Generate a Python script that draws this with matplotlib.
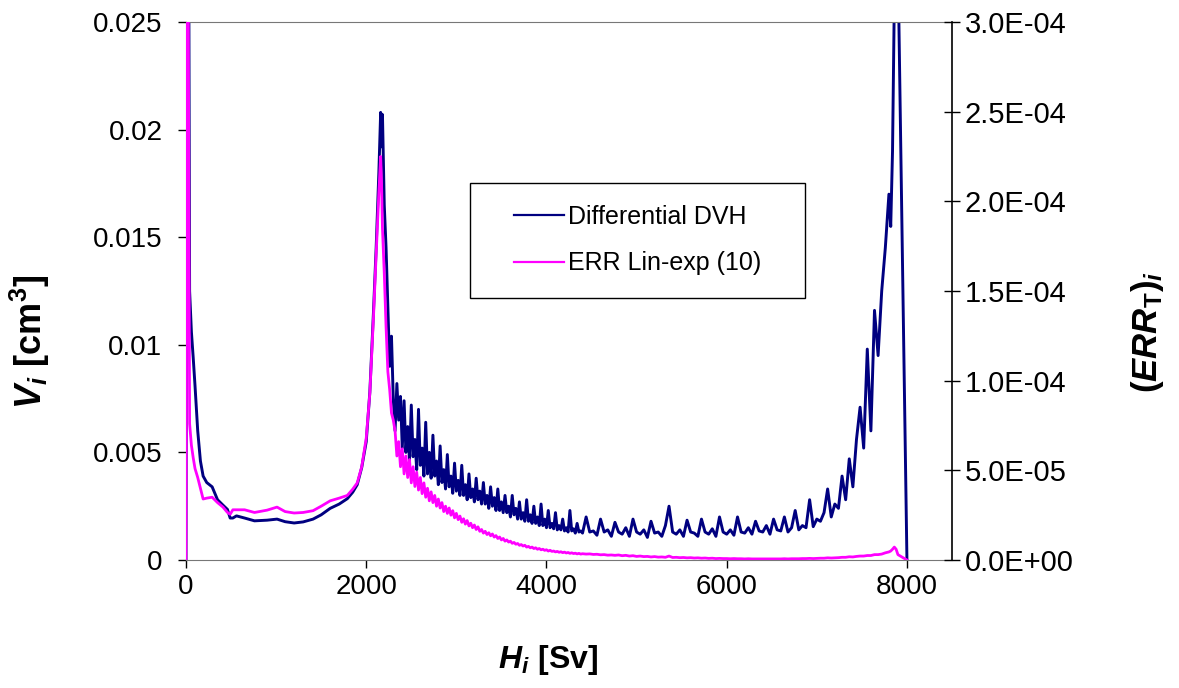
import matplotlib

matplotlib.use("Agg")
import matplotlib.pyplot as plt
import matplotlib.ticker as mticker
import numpy as np
from matplotlib.patches import Rectangle

plt.rcParams["font.family"] = "Liberation Sans"
plt.rcParams["mathtext.fontset"] = "custom"
plt.rcParams["mathtext.rm"] = "Liberation Sans"
plt.rcParams["mathtext.it"] = "Liberation Sans:italic"
plt.rcParams["mathtext.bf"] = "Liberation Sans:bold"
plt.rcParams["mathtext.bfit"] = "Liberation Sans:italic:bold"

NAVY = "#000080"
MAGENTA = "#ff00ff"

# dose bins H_i [Sv]
H = [
    0, 20, 40, 60, 80, 100, 130, 160, 190, 230,
    290, 350, 410, 460, 490, 520, 560, 650, 760, 900,
    1010, 1100, 1200, 1300, 1410, 1500, 1600, 1700, 1790, 1850,
    1900, 1950, 2000, 2040, 2080, 2110, 2140, 2160, 2170, 2180,
    2200, 2220, 2240, 2260, 2280, 2300,
    2320, 2340, 2360, 2380, 2400, 2420, 2440, 2460, 2480, 2500,
    2520, 2540, 2560, 2580, 2600, 2620, 2640, 2660, 2680, 2700,
    2720, 2740, 2760, 2780, 2800, 2820, 2840, 2860, 2880, 2900,
    2920, 2940, 2960, 2980, 3000, 3020, 3040, 3060, 3080, 3100,
    3120, 3140, 3160, 3180, 3200, 3220, 3240, 3260, 3280, 3300,
    3320, 3340, 3360, 3380, 3400, 3420, 3440, 3460, 3480, 3500,
    3520, 3540, 3560, 3580, 3600, 3620, 3640, 3660, 3680, 3700,
    3720, 3740, 3760, 3780, 3800, 3820, 3840, 3860, 3880, 3900,
    3920, 3940, 3960, 3980, 4000, 4020, 4040, 4060, 4080, 4100,
    4120, 4140, 4160, 4180, 4200, 4220, 4240, 4260, 4280, 4300,
    4320, 4340, 4360, 4380, 4400,
    4440, 4480, 4520, 4560, 4600, 4640, 4680,
    4720, 4760, 4800, 4840, 4880, 4920, 4960, 5000, 5040, 5080,
    5120, 5160, 5200, 5240, 5280, 5320, 5360, 5400, 5440, 5480,
    5520, 5560, 5600, 5640, 5680, 5720, 5760, 5800, 5840, 5880,
    5920, 5960, 6000, 6040, 6080, 6120, 6160, 6200, 6240, 6280,
    6320, 6360, 6400, 6440, 6480, 6520, 6560, 6600, 6640, 6680,
    6720, 6760, 6800, 6840, 6880, 6920, 6960, 7000, 7040, 7080,
    7120, 7160, 7200, 7240, 7280, 7320, 7360, 7400, 7440, 7480,
    7520, 7560, 7600, 7640, 7680, 7720, 7760, 7800,
    7820, 7840, 7860, 7880, 7900, 8000,
]

# differential DVH, V_i in mm^3 (1e-3 cm^3)
DVH_MM3 = [
    0, 45, 12.5, 10.6, 9.4, 8.1, 6.0, 4.6, 3.9, 3.6,
    3.4, 2.8, 2.55, 2.35, 1.95, 1.95, 2.05, 1.95, 1.82, 1.85,
    1.9, 1.78, 1.72, 1.77, 1.9, 2.1, 2.4, 2.6, 2.85, 3.15,
    3.5, 4.3, 5.5, 7.8, 11.5, 14.5, 18.0, 20.8, 19.2, 20.7,
    16.5, 14.5, 11.8, 9.0, 10.4, 7.5,
    6.0, 8.2, 6.5, 7.6, 5.2, 7.4, 5.0, 6.2, 4.6, 7.2,
    4.8, 5.6, 4.2, 7.0, 4.4, 5.2, 3.9, 6.4, 4.0, 5.0,
    3.8, 5.8, 3.9, 4.6, 3.5, 5.3, 3.6, 4.2, 3.3, 4.9,
    3.4, 3.9, 3.1, 4.5, 3.2, 3.7, 3.0, 4.4, 3.0, 3.5,
    2.8, 4.0, 2.9, 3.3, 2.7, 3.8, 2.8, 3.2, 2.6, 3.6,
    2.6, 3.0, 2.4, 3.4, 2.5, 2.9, 2.3, 3.3, 2.3, 2.7,
    2.2, 3.0, 2.2, 2.5, 2.0, 3.0, 2.1, 2.4, 1.9, 2.7,
    1.9, 2.2, 1.8, 2.8, 1.8, 2.1, 1.7, 2.5, 1.7, 2.0,
    1.6, 2.6, 1.6, 1.9, 1.5, 2.3, 1.5, 1.7, 1.45, 2.2,
    1.4, 1.6, 1.4, 1.9, 1.35, 1.5, 1.3, 2.3, 1.35, 1.45,
    1.25, 1.7, 1.3, 1.35, 1.25,
    2.0, 1.3, 1.35, 1.15, 1.9, 1.3, 1.4,
    1.1, 1.75, 1.3, 1.2, 1.5, 1.1, 1.9, 1.3, 1.2, 1.4,
    1.05, 1.8, 1.25, 1.3, 1.1, 1.6, 2.5, 1.3, 1.2, 1.4,
    1.1, 1.85, 1.3, 1.25, 1.1, 1.9, 1.3, 1.2, 1.45, 1.1,
    2.0, 1.3, 1.2, 1.4, 1.15, 2.0, 1.3, 1.25, 1.5, 1.2,
    1.8, 1.35, 1.3, 1.6, 1.2, 1.9, 1.4, 1.35, 2.0, 1.3,
    1.5, 2.3, 1.4, 1.6, 1.5, 2.8, 1.55, 1.9, 1.8, 2.2,
    3.3, 2.0, 2.6, 2.4, 3.9, 2.8, 4.7, 3.4, 5.6, 7.1,
    5.2, 9.8, 6.0, 11.6, 9.5, 12.5, 14.5, 17.0,
    15.5, 19.0, 26.0, 32.0, 28.0, 0,
]

# ERR Lin-exp (10), (ERR_T)_i in units of 1e-5
ERR_E5 = [
    0, 40, 7.6, 6.4, 5.7, 5.1, 4.6, 4.0, 3.4, 3.45,
    3.5, 3.2, 2.95, 2.65, 2.55, 2.8, 2.8, 2.8, 2.65, 2.78,
    2.95, 2.7, 2.62, 2.65, 2.75, 3.0, 3.3, 3.45, 3.6, 3.95,
    4.3, 5.2, 6.8, 9.3, 13.5, 17.0, 20.5, 22.5, 21.0, 18.5,
    16.0, 13.0, 10.5, 9.5, 8.2, 7.8,
    7.2, 5.8, 6.6, 5.2, 6.2, 4.8, 5.8, 4.6, 5.6, 4.3,
    5.2, 4.1, 4.9, 3.9, 4.6, 3.7, 4.3, 3.5, 4.0, 3.3,
    3.8, 3.2, 3.6, 3.0, 3.4, 2.9, 3.2, 2.7, 3.0, 2.6,
    2.9, 2.5, 2.75, 2.35, 2.6, 2.25, 2.45, 2.1, 2.3, 2.0,
    2.2, 1.9, 2.05, 1.8, 1.95, 1.7, 1.85, 1.6, 1.7, 1.5,
    1.6, 1.42, 1.52, 1.35, 1.45, 1.28, 1.36, 1.2, 1.28, 1.12,
    1.2, 1.05, 1.12, 1.0, 1.05, 0.93, 0.98, 0.88, 0.92, 0.82,
    0.86, 0.78, 0.82, 0.72, 0.76, 0.68, 0.72, 0.64, 0.68, 0.6,
    0.64, 0.57, 0.6, 0.54, 0.57, 0.5, 0.54, 0.48, 0.5, 0.45,
    0.48, 0.43, 0.46, 0.41, 0.44, 0.39, 0.42, 0.37, 0.4, 0.36,
    0.38, 0.34, 0.37, 0.33, 0.35,
    0.33, 0.34, 0.31, 0.32, 0.29, 0.3, 0.27,
    0.28, 0.26, 0.28, 0.24, 0.26, 0.22, 0.24, 0.2, 0.22, 0.19,
    0.2, 0.17, 0.19, 0.16, 0.17, 0.15, 0.22, 0.14, 0.15, 0.13,
    0.14, 0.12, 0.13, 0.11, 0.12, 0.1, 0.11, 0.09, 0.1, 0.08,
    0.09, 0.08, 0.08, 0.07, 0.08, 0.07, 0.07, 0.06, 0.07, 0.06,
    0.06, 0.06, 0.06, 0.06, 0.06, 0.06, 0.06, 0.06, 0.07, 0.06,
    0.07, 0.07, 0.07, 0.08, 0.08, 0.09, 0.08, 0.09, 0.1, 0.1,
    0.12, 0.11, 0.12, 0.13, 0.15, 0.15, 0.18, 0.17, 0.2, 0.22,
    0.22, 0.25, 0.25, 0.3, 0.3, 0.33, 0.4, 0.45,
    0.5, 0.6, 0.72, 0.6, 0.3, 0.0,
]

X_TICKS = [0, 2000, 4000, 6000, 8000]
Y_TICKS = [0, 0.005, 0.01, 0.015, 0.02, 0.025]
Y2_TICKS = [0, 5e-5, 1e-4, 1.5e-4, 2e-4, 2.5e-4, 3e-4]

W, Hpx = 1179, 688


def main():
    h = np.array(H, dtype=float)
    v = np.array(DVH_MM3) / 1000.0
    err = np.array(ERR_E5) * 1e-5

    fig = plt.figure(figsize=(W / 100, Hpx / 100), dpi=100)
    ax = fig.add_axes([186 / W, 1 - 560 / Hpx, (952 - 186) / W, (560 - 22) / Hpx])
    ax2 = ax.twinx()

    ax.plot(h, v, color=NAVY, lw=2.1, label="Differential DVH")
    ax2.plot(h, err, color=MAGENTA, lw=2.0, label="ERR Lin-exp (10)")

    ax.set_xlim(0, 8500)
    ax.set_ylim(0, 0.025)
    ax2.set_ylim(0, 3e-4)
    ax.set_xticks(X_TICKS)
    ax.set_yticks(Y_TICKS)
    ax2.set_yticks(Y2_TICKS)
    ax.yaxis.set_major_formatter(mticker.FuncFormatter(lambda t, _: f"{t:g}"))
    ax2.yaxis.set_major_formatter(mticker.FuncFormatter(lambda t, _: f"{t:.1E}"))

    ax.tick_params(axis="y", direction="out", length=6, width=1, pad=11, labelsize=20)
    ax.tick_params(axis="x", direction="out", length=6, width=1, pad=4, labelsize=20)
    ax2.tick_params(axis="y", direction="inout", length=12, width=1, pad=3, labelsize=21)

    for s in ("top", "left", "bottom"):
        ax.spines[s].set_color("#777777")
        ax2.spines[s].set_visible(False)
    ax.spines["right"].set_visible(False)
    ax2.spines["right"].set_color("black")
    ax2.spines["right"].set_linewidth(1.2)

    # legend box
    ax.add_patch(Rectangle((0.371, 0.487), 0.437, 0.214, transform=ax.transAxes,
                           fill=False, ec="black", lw=1, zorder=5))
    lines = ax.get_lines() + ax2.get_lines()
    leg = ax2.legend(lines, [l.get_label() for l in lines], loc="center left",
                     bbox_to_anchor=((501 - 186) / 766, (560 - 240) / 538),
                     frameon=False, fontsize=18, handlelength=2.0, handletextpad=0.2,
                     labelspacing=0.9, borderpad=0)
    for lh in leg.get_lines():
        lh.set_linewidth(1.6)

    fig.text(30 / W, 1 - 342 / Hpx, r"$\mathbfit{V}_{\mathbfit{i}}$ [cm$^{\mathbf{3}}$]",
             rotation=90, ha="center", va="center", fontsize=26, fontweight="bold")
    fig.text(548 / W, 1 - 660 / Hpx, r"$\mathbfit{H}_{\mathbfit{i}}$ [Sv]",
             ha="center", va="center", fontsize=23, fontweight="bold")
    fig.text(1148 / W, 1 - 332 / Hpx, r"($\mathbfit{ERR}_{\mathbf{T}}$)$_{\mathbfit{i}}$",
             rotation=90, ha="center", va="center", fontsize=25, fontweight="bold")

    fig.savefig("out.png", dpi=100, facecolor="white")
    plt.close(fig)


if __name__ == "__main__":
    main()
